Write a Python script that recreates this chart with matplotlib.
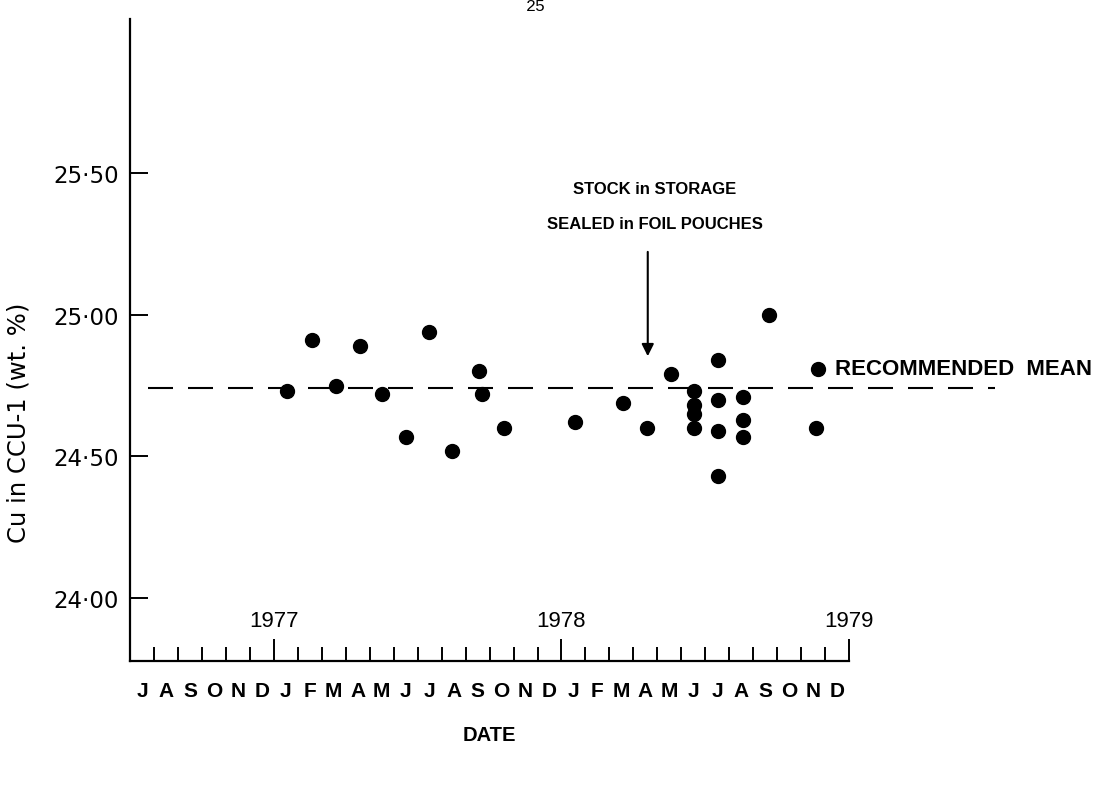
import numpy as np
import matplotlib
matplotlib.use("Agg")
import matplotlib.pyplot as plt
import matplotlib.transforms as mtransforms

# x = months counted from 1 July 1976 (0 = start of July 1976, 30 = 1 Jan 1979)
sample_month = [6.56, 7.58, 8.58, 9.58, 10.51, 11.50, 12.46, 13.45, 14.57, 14.67, 15.60,
                18.58, 20.55, 21.55, 22.55,
                23.53, 23.53, 23.53, 23.53,
                24.54, 24.54, 24.54, 24.54,
                25.57, 25.57, 25.57,
                26.66, 28.69, 28.63]
cu_percent = [24.73, 24.91, 24.75, 24.89, 24.72, 24.57, 24.94, 24.52, 24.80, 24.72, 24.60,
              24.62, 24.69, 24.60, 24.79,
              24.73, 24.68, 24.65, 24.60,
              24.84, 24.70, 24.59, 24.43,
              24.71, 24.63, 24.57,
              25.00, 24.81, 24.60]
recommended_mean = 24.74

month_letters = list("JASOND") + list("JFMAMJJASOND") * 2
year_labels = ["1977", "1978", "1979"]
year_ticks = [6, 18, 30]
y_ticks = [24.00, 24.50, 25.00, 25.50]
y_tick_labels = ["24\u00b700", "24\u00b750", "25\u00b700", "25\u00b750"]
storage_month = 21.6

fonts = ['Liberation Sans', 'DejaVu Sans']

fig = plt.figure(figsize=(11.02, 8.12), dpi=100)
ax = fig.add_axes([0.118, 0.1847, 0.6525, 0.7906])

# data points
ax.plot(sample_month, cu_percent, 'o', color='black', markersize=10, clip_on=False)

# recommended mean (dashed, runs past the axis)
ax.plot([0.75, 36.1], [recommended_mean, recommended_mean], color='black',
        lw=1.5, dashes=(12, 7.2), clip_on=False)
ax.text(29.4, 24.81, "RECOMMENDED  MEAN", fontsize=16, fontweight='bold',
        va='center', ha='left', family=fonts)

# storage annotation with arrow
ax.annotate("", xy=(storage_month, 24.844), xytext=(storage_month, 25.232),
            arrowprops=dict(arrowstyle='-|>', color='black', lw=1.5,
                            mutation_scale=18))
ax.text(21.9, 25.447, "STOCK in STORAGE", fontsize=12, fontweight='bold',
        ha='center', va='center', family=fonts)
ax.text(21.9, 25.324, "SEALED in FOIL POUCHES", fontsize=12, fontweight='bold',
        ha='center', va='center', family=fonts)

# axes limits and spines
ax.set_xlim(0, 30)
ax.set_ylim(23.778, 26.044)
for s in ['top', 'right']:
    ax.spines[s].set_visible(False)
for s in ['left', 'bottom']:
    ax.spines[s].set_linewidth(1.6)

# y ticks
ax.set_yticks(y_ticks)
ax.set_yticklabels(y_tick_labels, fontsize=16.5)
ax.tick_params(axis='y', direction='in', length=13, width=1.4, pad=8)

# x ticks: year boundaries long, months short
ax.set_xticks(year_ticks)
ax.set_xticklabels([])
minor = [m for m in range(1, 30) if m not in year_ticks]
ax.set_xticks(minor, minor=True)
ax.tick_params(axis='x', which='major', direction='in', length=16, width=1.4)
ax.tick_params(axis='x', which='minor', direction='in', length=10, width=1.4)

trans = mtransforms.blended_transform_factory(ax.transData, ax.transAxes)
for i, letter in enumerate(month_letters):
    ax.annotate(letter, xy=(i + 0.5, 0), xycoords=trans, xytext=(0, -21),
                textcoords='offset points', ha='center', va='center',
                fontsize=15, fontweight='bold', family=fonts)
for yt, yl in zip(year_ticks, year_labels):
    ax.annotate(yl, xy=(yt, 0), xycoords=trans, xytext=(0, 29),
                textcoords='offset points', ha='center', va='center',
                fontsize=16, family=fonts)

ax.annotate("DATE", xy=(15, 0), xycoords=trans, xytext=(0, -53),
            textcoords='offset points', ha='center', va='center',
            fontsize=14.5, fontweight='bold', family=fonts)

ax.set_ylabel("Cu in CCU-1 (wt. %)", fontsize=17.5)
ax.yaxis.set_label_coords(-0.138, 0.372)

# page number
fig.text(0.486, 0.992, "25", fontsize=12, ha='center', va='center',
         family=['Liberation Mono', 'DejaVu Sans Mono'])

plt.savefig("out.png", dpi=100)
